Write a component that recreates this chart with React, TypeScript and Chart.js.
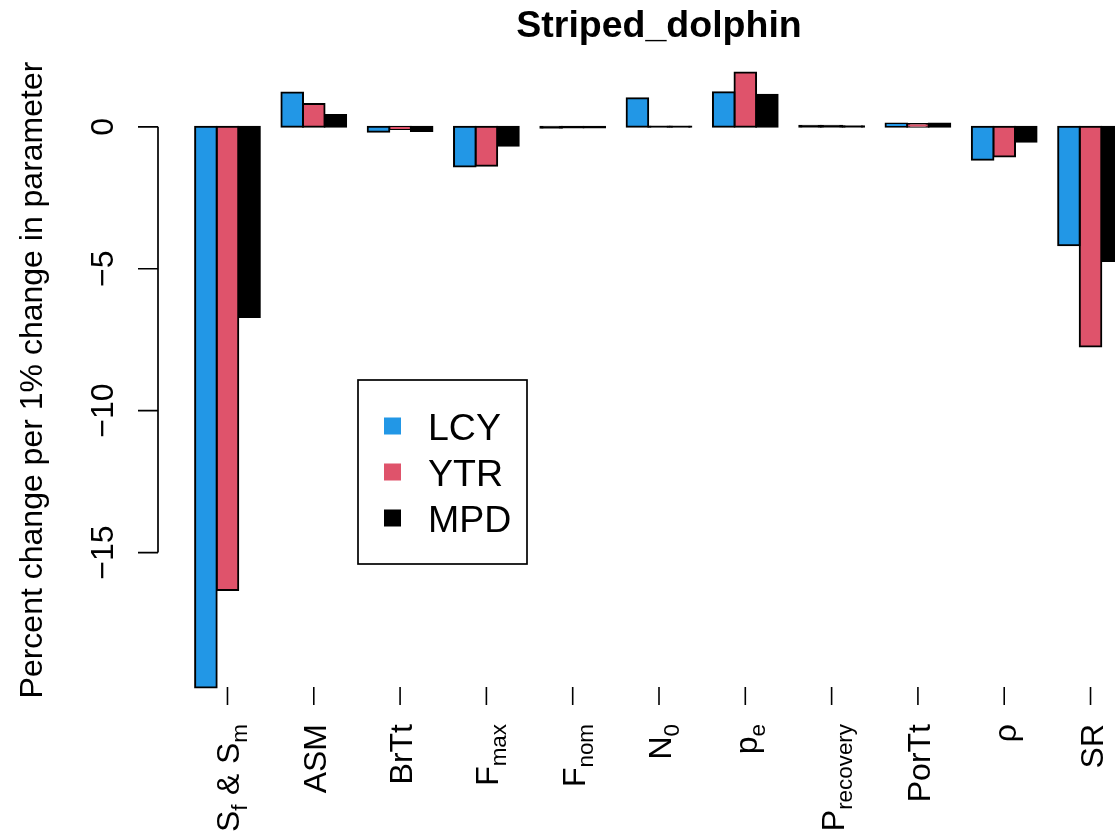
import React, { useEffect, useRef } from "react";
import { Chart, registerables } from "chart.js";

Chart.register(...registerables);

type Part = { t: string; sub?: boolean; pre?: number; post?: number };

const title = "Striped_dolphin";
const yTitle = "Percent change per 1% change in parameter";

const categories = ["Sf & Sm", "ASM", "BrTt", "Fmax", "Fnom", "N0", "pe", "Precovery", "PorTt", "rho", "SR"];
const categoryLabels: Part[][] = [
  [{ t: "S" }, { t: "f", sub: true }, { t: "&", pre: 0.3, post: 0.3 }, { t: "S" }, { t: "m", sub: true }],
  [{ t: "ASM" }],
  [{ t: "BrTt" }],
  [{ t: "F" }, { t: "max", sub: true }],
  [{ t: "F" }, { t: "nom", sub: true }],
  [{ t: "N" }, { t: "0", sub: true }],
  [{ t: "p" }, { t: "e", sub: true }],
  [{ t: "P" }, { t: "recovery", sub: true }],
  [{ t: "PorTt" }],
  [{ t: "ρ" }],
  [{ t: "SR" }],
];

const seriesNames = ["LCY", "YTR", "MPD"];
const seriesColors = ["#2297E6", "#DF536B", "#000000"];

const LCY = [-19.75, 1.21, -0.17, -1.4, -0.03, 1.01, 1.22, 0.04, 0.12, -1.16, -4.17];
const YTR = [-16.32, 0.8, -0.08, -1.37, -0.02, 0.01, 1.91, 0.04, 0.1, -1.05, -7.74];
const MPD = [-6.7, 0.42, -0.15, -0.67, -0.02, 0.01, 1.13, 0.02, 0.12, -0.53, -4.73];

const yTicks = [0, -5, -10, -15];
const yTickLabels = ["0", "−5", "−10", "−15"];

const FONT = '"Liberation Sans", Arial, Helvetica, sans-serif';
const BASE = 32;
const BIG = 37.5;

function drawParts(ctx: CanvasRenderingContext2D, parts: Part[], size: number) {
  // draws right-aligned at local origin (text ends at x=0)
  const widths = parts.map((p) => {
    ctx.font = `${p.sub ? size * 0.7 : size}px ${FONT}`;
    return ctx.measureText(p.t).width + ((p.pre || 0) + (p.post || 0)) * size;
  });
  const total = widths.reduce((a, b) => a + b, 0);
  let cx = -total;
  ctx.textAlign = "left";
  ctx.textBaseline = "alphabetic";
  parts.forEach((p, i) => {
    ctx.font = `${p.sub ? size * 0.7 : size}px ${FONT}`;
    ctx.fillText(p.t, cx + (p.pre || 0) * size, p.sub ? size * 0.25 : 0);
    cx += widths[i];
  });
}

export default function App() {
  const canvasRef = useRef<HTMLCanvasElement | null>(null);

  useEffect(() => {
    const canvas = canvasRef.current;
    if (!canvas) return;
    const n = categories.length;
    const centers = categories.map((_, i) => 4 * i + 2.5);
    const series = [LCY, YTR, MPD];
    const all = [...LCY, ...YTR, ...MPD];
    const lo = Math.min(...all, 0);
    const hi = Math.max(...all, 0);
    const yPad = 0.04 * (hi - lo);
    const xLo = 1;
    const xHi = 4 * n;
    const xPad = 0.04 * (xHi - xLo);

    const overlay = {
      id: "rbase",
      afterDraw(chart: any) {
        const ctx: CanvasRenderingContext2D = chart.ctx;
        const xs = chart.scales.x;
        const ys = chart.scales.y;
        const area = chart.chartArea;
        ctx.save();
        ctx.fillStyle = "#000";
        ctx.strokeStyle = "#000";

        // title
        ctx.font = `bold ${BIG}px ${FONT}`;
        ctx.textAlign = "center";
        ctx.textBaseline = "alphabetic";
        ctx.fillText(title, (area.left + area.right) / 2, 37);

        // y axis
        ctx.lineWidth = 1.7;
        ctx.beginPath();
        const yA = ys.getPixelForValue(yTicks[0]);
        const yB = ys.getPixelForValue(yTicks[yTicks.length - 1]);
        ctx.moveTo(area.left, yA);
        ctx.lineTo(area.left, yB);
        yTicks.forEach((v) => {
          const py = ys.getPixelForValue(v);
          ctx.moveTo(area.left, py);
          ctx.lineTo(area.left - 20, py);
        });
        ctx.stroke();

        ctx.font = `${BASE}px ${FONT}`;
        ctx.textAlign = "center";
        yTicks.forEach((v, i) => {
          const py = ys.getPixelForValue(v);
          ctx.save();
          ctx.translate(area.left - 45, py);
          ctx.rotate(-Math.PI / 2);
          ctx.fillText(yTickLabels[i], 0, 0);
          ctx.restore();
        });

        // y title
        ctx.save();
        ctx.translate(42, (area.top + area.bottom) / 2);
        ctx.rotate(-Math.PI / 2);
        ctx.font = `${BASE}px ${FONT}`;
        ctx.textAlign = "center";
        ctx.fillText(yTitle, 0, 0);
        ctx.restore();

        // category ticks and labels
        ctx.lineWidth = 1.6;
        centers.forEach((c, i) => {
          const px = xs.getPixelForValue(c);
          ctx.beginPath();
          ctx.moveTo(px, area.bottom - 25);
          ctx.lineTo(px, area.bottom - 7);
          ctx.stroke();
          ctx.save();
          ctx.translate(px + 12, area.bottom + 12);
          ctx.rotate(-Math.PI / 2);
          drawParts(ctx, categoryLabels[i], BASE);
          ctx.restore();
        });

        // legend
        const bx = 358, by = 380, bw = 169, bh = 184;
        ctx.lineWidth = 1.7;
        ctx.strokeRect(bx, by, bw, bh);
        ctx.font = `${BIG}px ${FONT}`;
        ctx.textAlign = "left";
        ctx.textBaseline = "alphabetic";
        seriesNames.forEach((name, k) => {
          const cy = by + 46 + 46 * k;
          ctx.fillStyle = seriesColors[k];
          ctx.fillRect(bx + 26, cy - 8.5, 17, 17);
          ctx.fillStyle = "#000";
          ctx.fillText(name, bx + 70, cy + 14);
        });
        ctx.restore();
      },
    };

    const chart = new Chart(canvas, {
      type: "bar",
      data: {
        datasets: series.map((vals, k) => ({
          label: seriesNames[k],
          data: vals.map((v, i) => ({ x: centers[i], y: v })),
          backgroundColor: (c: any) => {
            const v = c.parsed ? c.parsed.y : 1;
            const s = c.chart.scales && c.chart.scales.y;
            if (!s || v === undefined) return seriesColors[k];
            const h = Math.abs(s.getPixelForValue(v) - s.getPixelForValue(0));
            return h < 2 ? "#000000" : seriesColors[k];
          },
          borderColor: "#000000",
          borderWidth: 2,
          borderSkipped: false,
          inflateAmount: 1,
          categoryPercentage: 0.75,
          barPercentage: 1,
        })),
      },
      options: {
        responsive: false,
        animation: false,
        events: [],
        layout: { padding: { left: 158, right: 40, top: 48, bottom: 122 } },
        plugins: {
          legend: { display: false },
          tooltip: { enabled: false },
          title: { display: false },
        },
        scales: {
          x: {
            type: "linear",
            min: xLo - xPad,
            max: xHi + xPad,
            offset: false,
            display: false,
            afterBuildTicks: (scale: any) => {
              scale.ticks = centers.map((v) => ({ value: v }));
            },
          },
          y: {
            type: "linear",
            min: lo - yPad,
            max: hi + yPad,
            display: false,
          },
        },
      },
      plugins: [overlay],
    } as any);

    return () => chart.destroy();
  }, []);

  return (
    <div
      style={{
        position: "absolute",
        left: 0,
        top: 0,
        width: 1115,
        height: 834,
        overflow: "hidden",
        background: "#fff",
      }}
    >
      <canvas ref={canvasRef} width={1200} height={834} style={{ display: "block", width: 1200, height: 834 }} />
    </div>
  );
}
